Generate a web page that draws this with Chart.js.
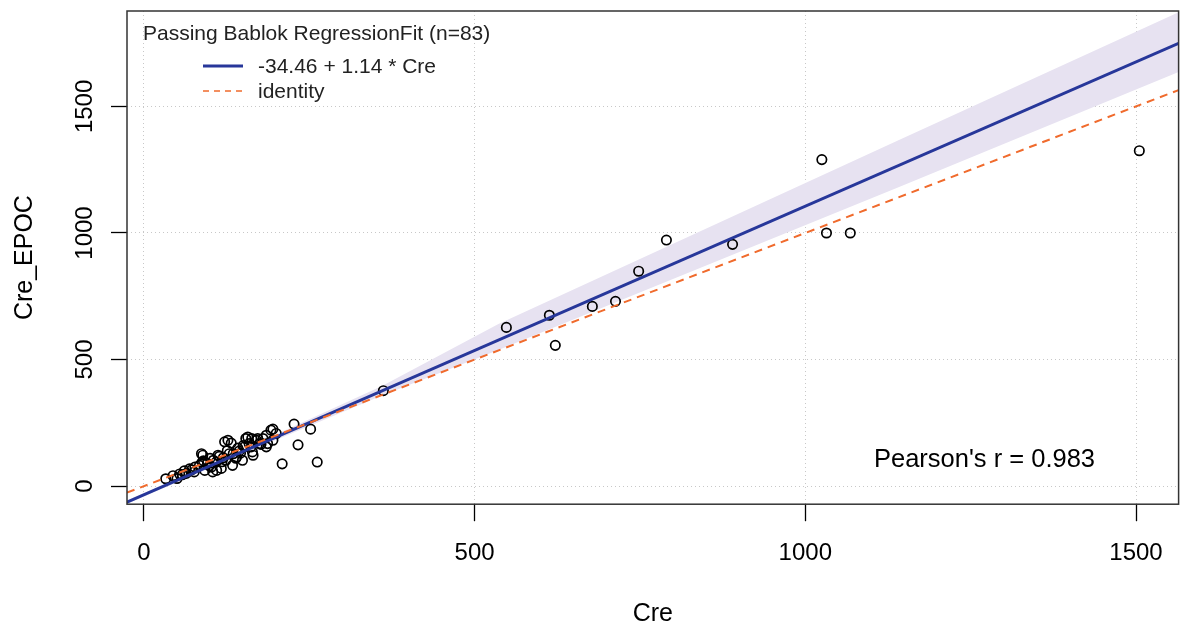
<!DOCTYPE html>
<html>
<head>
<meta charset="utf-8">
<script src="https://cdn.jsdelivr.net/npm/chart.js@4/dist/chart.umd.min.js"></script>
<style>
  html, body { margin: 0; padding: 0; background: #fff; }
  #wrap { width: 1185px; height: 629px; }
</style>
</head>
<body>
<div id="wrap"><canvas id="pbChart" width="1185" height="629"></canvas></div>
<script>
// measured values (Cre vs Cre_EPOC)
const creValues = [
  33, 44, 50, 54, 61, 64, 69, 76, 77, 84,
  87, 89, 90, 92, 96, 99, 102, 104, 105, 109,
  110, 112, 114, 117, 120, 122, 124, 127, 129, 132,
  134, 135, 139, 140, 144, 146, 149, 150, 152, 154,
  157, 159, 162, 163, 164, 165, 170, 172, 175, 177,
  180, 185, 185, 187, 192, 195, 195, 200, 88, 100,
  118, 126, 142, 58, 72,
  209, 262, 233, 252, 227, 362, 548, 613, 622, 678,
  713, 748, 790, 890, 1025, 1032, 1068, 1505
];
const epocValues = [
  29, 41, 30, 48, 60, 50, 68, 56, 75, 82,
  128, 122, 100, 62, 90, 80, 75, 56, 102, 95,
  62, 122, 118, 70, 112, 175, 102, 181, 128, 170,
  82, 128, 110, 115, 138, 130, 102, 160, 155, 188,
  194, 168, 155, 188, 135, 122, 181, 188, 168, 165,
  188, 155, 201, 168, 221, 181, 225, 208, 95, 110,
  96, 140, 150, 45, 64,
  88, 95, 163, 225, 245, 377, 627, 675, 556, 710,
  730, 849, 972, 955, 1290, 1000, 1000, 1325
];

// Passing-Bablok fit
const intercept = -34.46;
const slope = 1.14;
const pearsonR = 0.983;

// confidence band
const bandX = [-25.6, 150, 360, 536, 1140, 1564.4];
const bandUpper = [-57, 145, 395, 640, 1365, 1872];
const bandLower = [-70, 128, 358, 538, 1180, 1636];

const xLimits = [-25.6, 1564.4];
const yLimits = [-71.5, 1877];
const xTicks = [0, 500, 1000, 1500];
const yTicks = [0, 500, 1000, 1500];

const FONT = '"Liberation Sans", Arial, sans-serif';

const points = creValues.map((x, i) => ({ x: x, y: epocValues[i] }));
const fitLine = xLimits.map(x => ({ x: x, y: intercept + slope * x }));
const identityLine = xLimits.map(x => ({ x: x, y: x }));
const upperBand = bandX.map((x, i) => ({ x: x, y: bandUpper[i] }));
const lowerBand = bandX.map((x, i) => ({ x: x, y: bandLower[i] }));

// box, rotated y labels, legend and r text
const decorations = {
    id: 'decorations',
    afterDraw(chart) {
        const ctx = chart.ctx;
        const area = chart.chartArea;
        const yScale = chart.scales.y;

        ctx.save();
        ctx.strokeStyle = '#333';
        ctx.lineWidth = 1.5;
        ctx.strokeRect(area.left, area.top, area.right - area.left, area.bottom - area.top);

        // y tick labels, rotated like R
        ctx.fillStyle = '#000';
        ctx.font = '24px ' + FONT;
        ctx.textAlign = 'center';
        ctx.textBaseline = 'middle';
        yTicks.forEach(v => {
            const py = yScale.getPixelForValue(v);
            ctx.save();
            ctx.translate(85, py);
            ctx.rotate(-Math.PI / 2);
            ctx.fillText(String(v), 0, 0);
            ctx.restore();
        });

        // y title
        ctx.font = '25px ' + FONT;
        ctx.save();
        ctx.translate(25, (area.top + area.bottom) / 2);
        ctx.rotate(-Math.PI / 2);
        ctx.fillText('Cre_EPOC', 0, 0);
        ctx.restore();

        // legend
        ctx.textAlign = 'left';
        ctx.fillStyle = '#222';
        ctx.font = '21px ' + FONT;
        ctx.fillText('Passing Bablok RegressionFit (n=83)', 143, 34);
        ctx.fillText('-34.46 + 1.14 * Cre', 258, 67);
        ctx.fillText('identity', 258, 92);

        ctx.strokeStyle = '#27379a';
        ctx.lineWidth = 3;
        ctx.beginPath();
        ctx.moveTo(203, 66);
        ctx.lineTo(243, 66);
        ctx.stroke();

        ctx.strokeStyle = '#f06b2d';
        ctx.lineWidth = 1.5;
        ctx.setLineDash([6, 5]);
        ctx.beginPath();
        ctx.moveTo(203, 91);
        ctx.lineTo(243, 91);
        ctx.stroke();
        ctx.setLineDash([]);

        // Pearson r
        ctx.fillStyle = '#000';
        ctx.font = '25.5px ' + FONT;
        ctx.fillText("Pearson's r = " + pearsonR, 874, 460);
        ctx.restore();
    }
};

const pbChart = new Chart(document.getElementById('pbChart'), {
    type: 'scatter',
    data: {
        datasets: [
            {
                label: 'identity',
                data: identityLine,
                showLine: true,
                borderColor: '#f06b2d',
                borderWidth: 2,
                borderDash: [8, 6],
                pointRadius: 0,
                order: 0
            },
            {
                label: 'fit',
                data: fitLine,
                showLine: true,
                borderColor: '#27379a',
                borderWidth: 3,
                pointRadius: 0,
                order: 1
            },
            {
                label: 'Cre_EPOC',
                data: points,
                pointStyle: 'circle',
                pointRadius: 4.7,
                pointBorderWidth: 1.7,
                pointBorderColor: '#000',
                pointBackgroundColor: 'rgba(0,0,0,0)',
                order: 2
            },
            {
                label: 'upper',
                data: upperBand,
                showLine: true,
                borderWidth: 0,
                borderColor: 'rgba(0,0,0,0)',
                backgroundColor: '#e7e2f1',
                fill: '+1',
                pointRadius: 0,
                order: 3
            },
            {
                label: 'lower',
                data: lowerBand,
                showLine: true,
                borderWidth: 0,
                borderColor: 'rgba(0,0,0,0)',
                pointRadius: 0,
                fill: false,
                order: 4
            }
        ]
    },
    options: {
        responsive: false,
        animation: false,
        events: [],
        layout: { padding: { left: 111, top: 11, right: 3, bottom: 0 } },
        plugins: {
            legend: { display: false },
            tooltip: { enabled: false }
        },
        scales: {
            x: {
                type: 'linear',
                min: xLimits[0],
                max: xLimits[1],
                afterBuildTicks: (scale) => { scale.ticks = xTicks.map(v => ({ value: v })); },
                grid: {
                    color: '#c8c8c8',
                    lineWidth: 1,
                    drawTicks: true,
                    tickLength: 17,
                    tickColor: '#000',
                    tickWidth: 1.3,
                    tickBorderDash: [0, 0]
                },
                border: { display: false, dash: [1, 3] },
                ticks: {
                    color: '#000',
                    font: { family: FONT, size: 24 },
                    padding: 18,
                    maxRotation: 0,
                    autoSkip: false,
                    callback: (v) => String(v)
                },
                title: {
                    display: true,
                    text: 'Cre',
                    color: '#000',
                    font: { family: FONT, size: 25 },
                    padding: { top: 13, bottom: 0 }
                }
            },
            y: {
                type: 'linear',
                min: yLimits[0],
                max: yLimits[1],
                afterBuildTicks: (scale) => { scale.ticks = yTicks.map(v => ({ value: v })); },
                grid: {
                    color: '#c8c8c8',
                    lineWidth: 1,
                    drawTicks: true,
                    tickLength: 16,
                    tickColor: '#000',
                    tickWidth: 1.3,
                    tickBorderDash: [0, 0]
                },
                border: { display: false, dash: [1, 3] },
                ticks: { display: false },
                title: { display: false }
            }
        }
    },
    plugins: [decorations]
});
</script>
</body>
</html>
